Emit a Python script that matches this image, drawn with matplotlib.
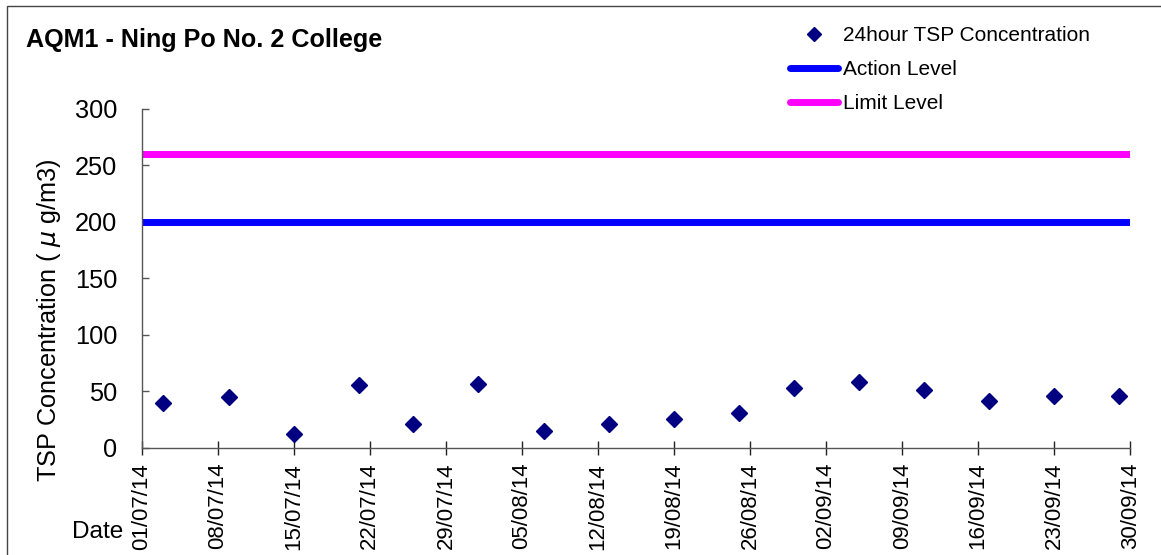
import matplotlib
matplotlib.use("Agg")
import matplotlib.pyplot as plt
from matplotlib.lines import Line2D
from matplotlib.patches import Rectangle
from datetime import datetime

plt.rcParams['font.family'] = ['Liberation Sans', 'DejaVu Sans']

# ---- data ----
sample_dates = ["03/07/14", "09/07/14", "15/07/14", "21/07/14", "26/07/14", "01/08/14",
                "07/08/14", "13/08/14", "19/08/14", "25/08/14", "30/08/14", "05/09/14",
                "11/09/14", "17/09/14", "23/09/14", "29/09/14"]
tsp_values = [39, 45, 12, 55, 21, 56, 15, 21, 25, 31, 53, 58, 51, 41, 46, 46]
level_dates = ["01/07/14", "30/09/14"]
action_level = [200, 200]
limit_level = [260, 260]
tick_dates = ["01/07/14", "08/07/14", "15/07/14", "22/07/14", "29/07/14", "05/08/14",
              "12/08/14", "19/08/14", "26/08/14", "02/09/14", "09/09/14", "16/09/14",
              "23/09/14", "30/09/14"]
y_ticks = [0, 50, 100, 150, 200, 250, 300]

def d(s):
    return datetime.strptime(s, "%d/%m/%y")

W, H = 1161, 555
fig = plt.figure(figsize=(W / 100, H / 100), dpi=100)
ax = fig.add_axes([141.7 / W, 1 - 447.5 / H, (1130.3 - 141.7) / W, (447.5 - 109) / H])

ax.plot([d(s) for s in level_dates], limit_level, color='#FF00FF', lw=5, solid_capstyle='butt', zorder=2)
ax.plot([d(s) for s in level_dates], action_level, color='#0000FF', lw=5, solid_capstyle='butt', zorder=2)
ax.plot([d(s) for s in sample_dates], tsp_values, linestyle='none', marker='D', markersize=8.5,
        color='#000080', markeredgecolor='#000080', zorder=3)

ax.set_xlim(d(tick_dates[0]), d(tick_dates[-1]))
ax.set_ylim(0, 300)
ax.set_xticks([d(s) for s in tick_dates])
ax.set_xticklabels(tick_dates, rotation=90, fontsize=16)
ax.set_yticks(y_ticks)
ax.set_yticklabels([str(v) for v in y_ticks], fontsize=18.3)

for s in ['top', 'right']:
    ax.spines[s].set_visible(False)
for s in ['left', 'bottom']:
    ax.spines[s].set_color('#555555')
    ax.spines[s].set_linewidth(1.0)
ax.tick_params(axis='y', direction='in', length=5, width=1, color='#555555', pad=17.6)
ax.tick_params(axis='x', direction='inout', length=10, width=1, color='#222222', pad=6)

fig.text(26 / W, 1 - 46.7 / H, "AQM1 - Ning Po No. 2 College", fontsize=18.1, fontweight='bold',
         ha='left', va='baseline')
fig.text(49 / W, 1 - 320 / H, "TSP Concentration ( $\\mu$ g/m3)", fontsize=18.2, rotation=90,
         ha='center', va='center')
fig.text(123 / W, 1 - 538.3 / H, "Date", fontsize=17.6, ha='right', va='baseline')

handles = [
    Line2D([], [], linestyle='none', marker='D', markersize=7, color='#000080'),
    Line2D([], [], color='#0000FF', lw=5, solid_capstyle='round'),
    Line2D([], [], color='#FF00FF', lw=5, solid_capstyle='round'),
]
labels = ["24hour TSP Concentration", "Action Level", "Limit Level"]
leg = fig.legend(handles, labels, loc='upper left', bbox_to_anchor=(789.5 / W, 1 - 26 / H),
                 frameon=False, fontsize=15, handlelength=2.31, handletextpad=0.28,
                 labelspacing=0.72, borderpad=0, borderaxespad=0)

fig.patches.append(Rectangle((7 / W, -0.1), 2, 1 - 6 / H + 0.1, transform=fig.transFigure,
                             fill=False, edgecolor='#444444', lw=1.0))

fig.savefig("out.png", dpi=100)
